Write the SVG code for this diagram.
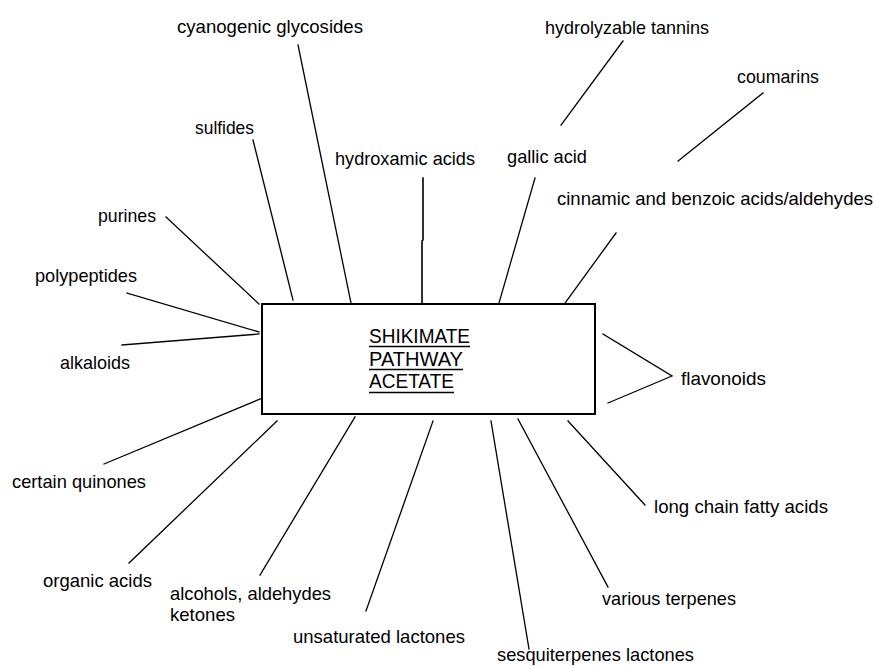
<svg xmlns="http://www.w3.org/2000/svg" width="878" height="666" viewBox="0 0 878 666">
<style>
.bg{fill:#fff}
.lbl{font-family:"Liberation Sans","DejaVu Sans",sans-serif;font-size:18.5px;fill:#000}
.ttl{font-family:"Liberation Sans","DejaVu Sans",sans-serif;font-size:20px;fill:#000}
.ln{stroke:#000;stroke-width:1.3;fill:none;stroke-linecap:square}
.box{fill:#fff;stroke:#000;stroke-width:2}
.ul{stroke:#000;stroke-width:1.6}
</style>
<rect class="bg" x="0" y="0" width="878" height="666"/>
<g id="connectors">
<line class="ln" x1="298" y1="45" x2="351" y2="303"/>
<line class="ln" x1="253" y1="140" x2="293" y2="300"/>
<polyline class="ln" points="423,178 423,240 422,241 422,303" style="stroke-width:1.6"/>
<line class="ln" x1="166" y1="217" x2="259" y2="304"/>
<line class="ln" x1="127" y1="293" x2="259" y2="332"/>
<line class="ln" x1="122" y1="345" x2="259" y2="334"/>
<line class="ln" x1="623" y1="41" x2="561" y2="125"/>
<line class="ln" x1="763" y1="93" x2="678" y2="161"/>
<line class="ln" x1="535" y1="178" x2="499" y2="303"/>
<line class="ln" x1="616" y1="233" x2="565" y2="303"/>
<line class="ln" x1="104" y1="464" x2="265" y2="397"/>
<line class="ln" x1="129" y1="563" x2="277" y2="421"/>
<line class="ln" x1="260" y1="575" x2="355" y2="417"/>
<line class="ln" x1="366" y1="611" x2="433" y2="421"/>
<line class="ln" x1="491" y1="421" x2="529" y2="649"/>
<line class="ln" x1="518" y1="419" x2="608" y2="587"/>
<line class="ln" x1="568" y1="421" x2="645" y2="505"/>
<polyline class="ln" points="603,334 672,376 608,403"/>
</g>
<g id="center">
<rect class="box" x="262" y="304" width="333" height="110"/>
<text class="ttl" x="369" y="343" textLength="101" lengthAdjust="spacingAndGlyphs">SHIKIMATE</text>
<line class="ul" x1="369" y1="346.5" x2="470" y2="346.5"/>
<text class="ttl" x="369" y="366" textLength="94" lengthAdjust="spacingAndGlyphs">PATHWAY</text>
<line class="ul" x1="369" y1="369.5" x2="463" y2="369.5"/>
<text class="ttl" x="369" y="388" textLength="85" lengthAdjust="spacingAndGlyphs">ACETATE</text>
<line class="ul" x1="369" y1="392.5" x2="454" y2="392.5"/>
</g>
<g id="n-cyanogenic"><text class="lbl" x="177" y="33" textLength="186" lengthAdjust="spacingAndGlyphs">cyanogenic glycosides</text></g>
<g id="n-sulfides"><text class="lbl" x="195" y="134" textLength="59" lengthAdjust="spacingAndGlyphs">sulfides</text></g>
<g id="n-hydroxamic"><text class="lbl" x="335" y="165" textLength="140" lengthAdjust="spacingAndGlyphs">hydroxamic acids</text></g>
<g id="n-purines"><text class="lbl" x="98" y="222" textLength="58" lengthAdjust="spacingAndGlyphs">purines</text></g>
<g id="n-polypeptides"><text class="lbl" x="35" y="282" textLength="102" lengthAdjust="spacingAndGlyphs">polypeptides</text></g>
<g id="n-alkaloids"><text class="lbl" x="60" y="369" textLength="70" lengthAdjust="spacingAndGlyphs">alkaloids</text></g>
<g id="n-hydrolyzable"><text class="lbl" x="545" y="34" textLength="164" lengthAdjust="spacingAndGlyphs">hydrolyzable tannins</text></g>
<g id="n-coumarins"><text class="lbl" x="737" y="83" textLength="82" lengthAdjust="spacingAndGlyphs">coumarins</text></g>
<g id="n-gallic"><text class="lbl" x="507" y="163" textLength="80" lengthAdjust="spacingAndGlyphs">gallic acid</text></g>
<g id="n-cinnamic"><text class="lbl" x="557" y="205" textLength="316" lengthAdjust="spacingAndGlyphs">cinnamic and benzoic acids/aldehydes</text></g>
<g id="n-flavonoids"><text class="lbl" x="681" y="385" textLength="85" lengthAdjust="spacingAndGlyphs">flavonoids</text></g>
<g id="n-quinones"><text class="lbl" x="12" y="488" textLength="134" lengthAdjust="spacingAndGlyphs">certain quinones</text></g>
<g id="n-organic"><text class="lbl" x="43" y="587" textLength="109" lengthAdjust="spacingAndGlyphs">organic acids</text></g>
<g id="n-alcohols"><text class="lbl" x="170" y="600" textLength="161" lengthAdjust="spacingAndGlyphs">alcohols, aldehydes</text><text class="lbl" x="170" y="621" textLength="65" lengthAdjust="spacingAndGlyphs">ketones</text></g>
<g id="n-unsaturated"><text class="lbl" x="293" y="643" textLength="172" lengthAdjust="spacingAndGlyphs">unsaturated lactones</text></g>
<g id="n-sesquiterpenes"><text class="lbl" x="497" y="661" textLength="197" lengthAdjust="spacingAndGlyphs">sesquiterpenes lactones</text></g>
<g id="n-terpenes"><text class="lbl" x="602" y="605" textLength="134" lengthAdjust="spacingAndGlyphs">various terpenes</text></g>
<g id="n-fatty"><text class="lbl" x="654" y="513" textLength="174" lengthAdjust="spacingAndGlyphs">long chain fatty acids</text></g>
</svg>
